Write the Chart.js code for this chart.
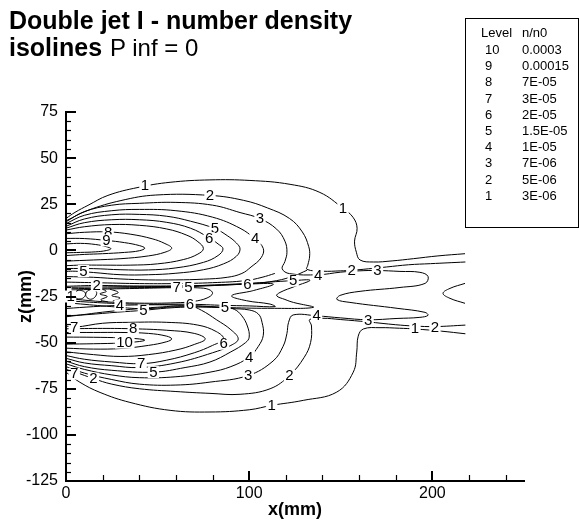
<!DOCTYPE html>
<html lang="en">
<head>
<meta charset="UTF-8">
<title>Double jet I - number density isolines</title>
<script src="https://cdn.jsdelivr.net/npm/chart.js"></script>
<style>
  body { margin: 0; background: #fff; font-family: "Liberation Sans", Arial, Helvetica, sans-serif; color: #000; }
  #wrap { position: relative; width: 579px; height: 525px; overflow: hidden; }
  #chart { position: absolute; left: 0; top: 0; }
  .ttl { position: absolute; white-space: nowrap; line-height: 25px; font-size: 25px; }
  .bold { font-weight: bold; }
  #legend { position: absolute; left: 465px; top: 18px; width: 112px; height: 208px; border: 1px solid #000; }
  .lg { position: absolute; font-size: 13px; line-height: 16px; white-space: nowrap; }
</style>
</head>
<body>
<div id="wrap">
  <canvas id="chart" width="579" height="525"></canvas>
  <div class="ttl bold" style="left:9px; top:8px;">Double jet I - number density</div>
  <div class="ttl bold" style="left:9px; top:35px;">isolines</div>
  <div class="ttl" style="left:110px; top:35px; font-size:24px;">P inf = 0</div>
  <div id="legend"></div>
</div>
<script>
// legend table
const levelNames = ['10', '9', '8', '7', '6', '5', '4', '3', '2', '1'];
const levelValues = ['0.0003', '0.00015', '7E-05', '3E-05', '2E-05', '1.5E-05', '1E-05', '7E-06', '5E-06', '3E-06'];

// axis ticks
const xMajorTicks = [0, 100, 200];
const xMinorTicks = [20, 40, 60, 80, 120, 140, 160, 180, 220, 240];
const yMajorTicks = [-125, -100, -75, -50, -25, 0, 25, 50, 75];
const yMinorTicks = [-120, -115, -110, -105, -95, -90, -85, -80, -70, -65, -60, -55, -45, -40, -35, -30,
  -20, -15, -10, -5, 5, 10, 15, 20, 30, 35, 40, 45, 55, 60, 65, 70];

// isolines, [x(mm), z(mm)] -- upper jet
const upper10 = [[0,3.5],[8,3.8],[16,3.2],[22,2],[24.5,0.9],[22,-0.1],[16,-0.8],[8,-1.1],[0,-1.3]];
const upper9 = [[0,6.5],[10,6.4],[22,5.4],[32,4.2],[40,2.6],[43,1.2],[40,-0.2],[32,-1.1],[20,-1.8],[10,-2.2],[0,-2.8]];
const upper8 = [[0,9],[10,9.8],[23,10],[35,8.8],[47,6.3],[54,3.7],[57.7,1.2],[54,-1],[45,-3],[30,-4.5],[15,-5.2],[0,-5.8]];
const upper7 = [[0,11],[10,12.8],[25,14],[40,13.6],[55,11.6],[66,8.2],[72,4.7],[75,1],[72,-2],[64,-5],[50,-7.3],[35,-8],[20,-8],[8,-8],[0,-8.3]];
const upper6 = [[0,12],[10,15],[25,16.6],[40,16.6],[55,15.2],[68,12],[77.8,7],[83,3.5],[85.7,0.8],[83,-2.8],[75,-6.5],[60,-9.5],[45,-10.6],[30,-10.5],[15,-9.9],[0,-9.8]];
const upper5 = [[0,13],[10,17],[25,19.3],[40,19.5],[55,18.5],[68,15.8],[81.3,11.8],[88,8],[93,4],[95,0.7],[93,-3.2],[86,-7.3],[75,-10.5],[60,-12.4],[45,-13.2],[30,-13.2],[15,-12],[5,-11.3],[0,-11.4]];
const upper4 = [[0,14.5],[10,19],[25,21.5],[40,22.2],[60,21.5],[80,18],[95,12],[103,6.3],[107.7,1],[106.5,-4],[101,-9],[96,-12.5],[88,-14.6],[75,-15.6],[60,-16],[45,-16],[30,-15.5],[15,-14.6],[0,-14.2]];
const upper3 = [[0,15.5],[10,21],[25,24.5],[40,25.5],[60,26],[80,24.5],[95,20.5],[105.9,17.2],[115,11.5],[119.5,5],[120.6,-1],[119.5,-6],[118,-10],[122,-12.6],[137.7,-13.2],[150,-11.8],[160,-11.1],[169.8,-10.9],[182.3,-11.4],[193.2,-11.9],[197.6,-14.1],[196,-17.9],[182.3,-20.1],[160.5,-22.2],[149.6,-24.4],[147.9,-26.6],[155,-28.2],[180.7,-31.4],[196,-33.6],[197.6,-35.2],[193.2,-36.3],[180.7,-36.9],[164.9,-37.6],[150,-36.6],[137,-35.5],[124,-35],[121.5,-39],[120.6,-45],[118.5,-52],[113,-60],[99.5,-67.8],[78.6,-71.4],[60,-73],[40,-72.5],[25,-70],[10,-66.5],[0,-63]];
const upper3Left = [[114,-12.5],[107,-14.6],[98,-16.4],[80,-17.5],[60,-18],[40,-18],[20,-17.6],[0,-17.2]];
const upper2 = [[0,16],[12,21.7],[30,27],[49,30],[78.6,29.8],[97,27.1],[110,23],[122,17.3],[129,10],[132.5,2],[133,-3],[132,-8],[131.5,-10.3],[140,-11.3],[150,-11.1],[156,-10.8],[165,-10],[175,-9],[187,-7.8],[199,-7.2],[218,-6.3]];
const upper2Left = [[0,-19.5],[8,-19.2],[16.7,-19],[40,-19.3],[70,-19.1],[100,-18.1],[115,-16.4],[125,-13.6],[131.5,-10.8]];
const upper1 = [[0,17.3],[4.9,20.6],[12,24.4],[22.9,29.8],[39.3,34.1],[56.8,36.9],[78.6,38.2],[100.4,37.9],[122.3,35.8],[138.6,31.4],[151.2,22.8],[156.7,17.9],[158.9,12],[157.5,5],[158.5,-1],[160.5,-5.2],[167.7,-6.3],[178,-5.7],[189.6,-4.5],[203,-3],[217.8,-1.8]];

// sheet between the jets
const sheet7 = [[3,-21.5],[20,-21],[40,-20.6],[60.4,-20.2],[72,-20.3],[78,-21.2],[80,-23.3],[77,-25.8],[70,-27.6],[60,-28.4],[40,-28.6],[20,-27.8],[5,-26.5]];
const sheet6 = [[3,-20.8],[30,-20.3],[63,-19.8],[99,-18.3],[113.2,-18.3],[102.2,-21.8],[90.4,-24.6],[98.6,-27.3],[111.4,-29.1],[114.1,-30.5],[100,-30.1],[86,-29.8],[67.7,-29.2],[45,-29.2],[25,-28.7],[5,-27.6]];
const sheet5 = [[3,-20],[30,-19.7],[63,-19.4],[99,-17.9],[124,-16.4],[133.2,-16.2],[125,-19.5],[116.8,-22.8],[115,-24.6],[119.5,-26.6],[124.1,-28.2],[135,-30.9],[110,-31.4],[86.8,-31],[60,-30.6],[42.2,-31.6],[25,-30.5],[5,-28.8]];
const rightBay = [[217.8,-17.9],[209.6,-20.6],[205.8,-23.3],[209.6,-26],[217.8,-28.7]];
const loopA = [[7.6,-21.5],[10.2,-22.6],[10.5,-24.4],[8.5,-26.2],[5.5,-25.8],[4.8,-23.6],[6,-21.9],[7.6,-21.5]];
const loopB = [[13.5,-21.2],[16.5,-22.2],[16.2,-24.8],[13.5,-26.5],[11,-25],[11.2,-22.5],[13.5,-21.2]];
const zigA = [[18,-20.5],[22,-22.2],[18.5,-23.6],[22.5,-25],[19,-26.8],[23,-28]];
const zigB = [[24,-21],[28.5,-22.8],[25,-24.5],[29.5,-25.8],[25.5,-27.5]];

// lower jet
const lower10 = [[0,-47],[15,-47.1],[30,-47.4],[40,-48],[43,-48.7],[40,-49.4],[30,-50.2],[15,-50.6],[0,-50.8]];
const lower9 = [[0,-44.5],[15,-44.5],[30,-44.5],[45,-45],[55,-46.5],[57.7,-48],[55,-49.5],[45,-51.5],[30,-53.2],[15,-53.5],[0,-53]];
const lower8 = [[0,-42.5],[20,-42.3],[36.7,-42.5],[55,-43.3],[70,-45],[76,-48],[70,-51],[60,-54],[45,-56.5],[30,-57.5],[15,-56.5],[0,-55]];
const lower7 = [[0,-41],[5,-41.6],[20,-39.5],[35,-39],[55,-39],[72,-40.5],[82,-44],[86,-48],[80,-51.5],[70,-55.5],[55,-59.5],[41,-61.4],[25,-60.5],[10,-59],[0,-57]];
const lower6 = [[0,-36],[8,-35],[20,-33.5],[35,-32],[50,-30.8],[67.7,-30.2],[74,-32.5],[82,-37.5],[90,-43],[94,-48],[90,-51.5],[80,-55.5],[60,-61],[40,-63.5],[25,-62.5],[10,-61],[0,-58.5]];
const lower5 = [[0,-35.5],[12,-34.8],[28,-33.5],[42.2,-32.5],[55,-31.3],[70,-30.6],[86.8,-30.9],[92,-32],[96,-35.5],[99,-41],[100,-47],[98,-50],[90,-55],[78.6,-60.5],[65,-63.5],[47.7,-66],[25,-65],[10,-63],[0,-60]];
const lower4 = [[0,-31.5],[15,-30.5],[29.5,-29.8],[45,-29.5],[60,-29.6],[75,-30.2],[90,-31.5],[100,-32.3],[105,-34.5],[107,-39],[107.7,-46],[105,-52],[100,-57.8],[90,-63],[78.6,-66],[60,-68.5],[40,-69],[25,-67.5],[10,-64.5],[0,-61.5]];
const lower2 = [[0,-64.5],[5,-66],[15,-69.5],[25,-72.5],[40,-75],[60,-76.5],[78.6,-77.5],[95,-78],[111.4,-75],[122,-67.8],[130,-58],[133.5,-50],[134,-41],[133,-37.5],[140,-36.8],[150,-37.5],[165,-38.8],[180,-40.3],[190,-41],[201.4,-41.3],[218,-40.5]];
const lower1 = [[0,-66],[7.6,-71.5],[18.6,-77],[34.9,-82.4],[56.8,-86.7],[78.6,-87.6],[100,-86.4],[112.3,-84],[129.5,-81.3],[147.8,-76.8],[156.8,-66],[158.7,-55.1],[159.5,-46.5],[162.3,-42.6],[171.4,-41.9],[182,-42.2],[190.5,-42.6],[205,-43.8],[218,-45.2]];

const isolines = [upper10, upper9, upper8, upper7, upper6, upper5, upper4, upper3, upper3Left, upper2, upper2Left, upper1,
  sheet7, sheet6, sheet5, rightBay, loopA, loopB, zigA, zigB,
  lower10, lower9, lower8, lower7, lower6, lower5, lower4, lower2, lower1];

// contour labels: level, x, z
const contourLabels = [
  ['1', 43.1, 35.2], ['2', 78.6, 29.8], ['3', 105.9, 17.2], ['4', 103.2, 6.3], ['5', 81.3, 11.8], ['6', 78.2, 6.6],
  ['8', 23, 10], ['9', 22, 5.4], ['1', 151.2, 22.8],
  ['5', 9.5, -11.2], ['2', 16.7, -19], ['1', 2.5, -25],
  ['7', 60.4, -20.2], ['5', 66.8, -20], ['6', 99, -18.3], ['5', 124, -16.4], ['4', 137.7, -13.7], ['2', 156, -10.8], ['3', 170, -10.8],
  ['4', 29.5, -29.8], ['5', 42.2, -32.5], ['6', 67.7, -29.1], ['5', 86.8, -30.9], ['4', 136.8, -35], ['3', 164.9, -37.7], ['1', 190.5, -42.4], ['2', 201.4, -41.6],
  ['7', 4.5, -41.6], ['8', 36.7, -42.5], ['10', 32, -50], ['6', 86, -50.6], ['7', 41, -61.4], ['5', 47.7, -66], ['7', 4.5, -66.8], ['2', 15, -69.5],
  ['4', 100, -57.8], ['3', 99.5, -67.8], ['2', 122, -67.8], ['1', 112.3, -84]
];

// build legend box
const legend = document.getElementById('legend');
function addCell(text, left, top) {
  const d = document.createElement('div');
  d.className = 'lg';
  d.style.left = left + 'px';
  d.style.top = top + 'px';
  d.textContent = text;
  legend.appendChild(d);
}
addCell('Level', 15, 6);
addCell('n/n0', 56, 6);
levelNames.forEach((name, i) => {
  addCell(name, 19, 23 + i * 16.2);
  addCell(levelValues[i], 56, 23 + i * 16.2);
});

const FONT = '"Liberation Sans", Arial, Helvetica, sans-serif';
Chart.defaults.color = '#000';
Chart.defaults.font.family = FONT;

// isoline numbers, drawn on a white patch that cuts the line
const labelPlugin = {
  id: 'isoLabels',
  afterDatasetsDraw(chart) {
    const { ctx, scales: { x, y } } = chart;
    ctx.save();
    ctx.font = '15px ' + FONT;
    ctx.textAlign = 'center';
    ctx.textBaseline = 'middle';
    contourLabels.forEach(([txt, vx, vz]) => {
      const px = x.getPixelForValue(vx);
      const py = y.getPixelForValue(vz);
      const w = ctx.measureText(txt).width;
      ctx.fillStyle = '#fff';
      ctx.fillRect(px - w / 2 - 1.5, py - 6, w + 3, 12);
      ctx.fillStyle = '#000';
      ctx.fillText(txt, px, py + 0.5);
    });
    ctx.restore();
  }
};

// Tecplot style inward tick marks
const tickPlugin = {
  id: 'inwardTicks',
  afterDraw(chart) {
    const { ctx, scales: { x, y }, chartArea: a } = chart;
    ctx.save();
    ctx.strokeStyle = '#000';
    function mark(x1, y1, x2, y2, w) {
      ctx.lineWidth = w;
      ctx.beginPath();
      ctx.moveTo(x1, y1);
      ctx.lineTo(x2, y2);
      ctx.stroke();
    }
    yMajorTicks.forEach(v => { const p = Math.round(y.getPixelForValue(v)); mark(a.left, p, a.left + 10, p, 2); });
    yMinorTicks.forEach(v => { const p = Math.round(y.getPixelForValue(v)) + 0.5; mark(a.left, p, a.left + 5, p, 1.2); });
    xMajorTicks.forEach(v => { const p = Math.round(x.getPixelForValue(v)); mark(p, a.bottom, p, a.bottom - 10, 2); });
    xMinorTicks.forEach(v => { const p = Math.round(x.getPixelForValue(v)) + 0.5; mark(p, a.bottom, p, a.bottom - 6, 1.2); });
    ctx.restore();
  }
};

new Chart(document.getElementById('chart').getContext('2d'), {
  type: 'scatter',
  data: {
    datasets: isolines.map(line => ({
      data: line,
      showLine: true,
      borderColor: '#000',
      borderWidth: 1,
      pointRadius: 0,
      tension: 0.4,
      fill: false
    }))
  },
  options: {
    responsive: false,
    animation: false,
    devicePixelRatio: 1,
    layout: { padding: { top: 112, right: 55, left: 0, bottom: 0 } },
    plugins: { legend: { display: false }, tooltip: { enabled: false } },
    events: [],
    scales: {
      x: {
        type: 'linear',
        min: 0, max: 250,
        afterFit: s => { s.height = 44; },
        grid: { display: false, drawTicks: false },
        border: { display: true, color: '#000', width: 2 },
        ticks: { stepSize: 100, includeBounds: false, autoSkip: false, maxRotation: 0, padding: 3, font: { size: 16 } },
        title: { display: true, text: 'x(mm)', font: { size: 18, weight: 'bold' }, padding: { top: 0, bottom: 4 } }
      },
      y: {
        type: 'linear',
        min: -125, max: 75,
        afterFit: s => { s.width = 66; },
        grid: { display: false, drawTicks: false },
        border: { display: true, color: '#000', width: 2 },
        ticks: { stepSize: 25, autoSkip: false, padding: 8, font: { size: 16 } },
        title: { display: true, text: 'z(mm)', font: { size: 18, weight: 'bold' }, padding: { top: 15, bottom: 0 } }
      }
    }
  },
  plugins: [labelPlugin, tickPlugin]
});
</script>
</body>
</html>
